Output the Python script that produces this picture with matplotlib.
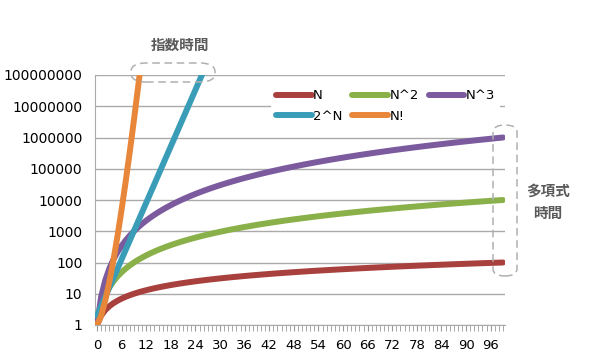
import math

import numpy as np
import matplotlib as mpl
mpl.use('agg')
import matplotlib.pyplot as plt
from matplotlib.patches import FancyBboxPatch

plt.rcParams['font.family'] = ['DejaVu Sans', 'Noto Sans CJK JP']

# problem size N = 1..100, plotted at category positions 0..99
n_values = np.arange(1, 101)
series_labels = ['N', 'N^2', 'N^3', '2^N', 'N!']
series_colors = ['#A8403D', '#8AB04A', '#7B5A9E', '#3A9DB8', '#E8863A']
lin = n_values.astype(float)
quad = n_values.astype(float) ** 2
cube = n_values.astype(float) ** 3
expo = 2.0 ** n_values
fact = np.array([float(math.factorial(int(k))) for k in n_values])

xtick_labels = [str(v) for v in range(0, 97, 6)]
ytick_values = [10 ** k for k in range(0, 9)]

fig = plt.figure(figsize=(6, 3.6), dpi=100)
ax = fig.add_axes((95 / 600, 1 - 325 / 360, 410 / 600, 250 / 360))

pos = np.arange(len(n_values))
lines = {}
for lab, col, vals in zip(series_labels, series_colors, [lin, quad, cube, expo, fact]):
    lines[lab], = ax.plot(pos, vals, color=col, lw=4.3, solid_capstyle='round', label=lab, zorder=3)

ax.set_yscale('log')
ax.set_ylim(1, 1e8)
ax.set_xlim(-0.5, 99.5)
ax.set_yticks(ytick_values)
ax.set_yticklabels([str(v) for v in ytick_values])
ax.yaxis.set_minor_locator(mpl.ticker.NullLocator())
ax.set_xticks(range(0, 97, 6))
ax.set_xticklabels(xtick_labels)
ax.set_xticks(pos, minor=True)
ax.tick_params(axis='x', which='minor', length=4, color='#999999', direction='out')
ax.tick_params(axis='x', which='major', length=4, color='#999999', labelsize=9.5, pad=6)
ax.tick_params(axis='y', length=0, labelsize=10, pad=9)

ax.grid(axis='y', color='#aaaaaa', lw=1)
for s in ['top', 'right']:
    ax.spines[s].set_visible(False)
ax.spines['left'].set_color('#aaaaaa')
ax.spines['bottom'].set_color('#aaaaaa')
ax.set_axisbelow(True)

order = ['N', '2^N', 'N^2', 'N!', 'N^3']
leg = ax.legend([lines[k] for k in order], order, ncol=3, loc='upper right',
                bbox_to_anchor=(0.995, 0.975), frameon=True, fancybox=False,
                edgecolor='none', framealpha=1, fontsize=9.5, handlelength=2.7,
                handletextpad=0.1, columnspacing=0.75, labelspacing=0.6,
                borderaxespad=0.2)

# annotation: exponential time
fig.text(180 / 600, 1 - 45 / 360, '指数時間', ha='center', va='center',
         fontsize=10.5, fontweight='bold', color='#5a5a5a',
         family=['Noto Sans CJK JP', 'DejaVu Sans'])
fig.patches.append(FancyBboxPatch((131 / 600, 1 - 82 / 360), 84 / 600, 19 / 360,
                                  boxstyle='round,pad=0,rounding_size=0.025',
                                  transform=fig.transFigure, fill=False,
                                  ec='#b0b0b0', ls=(0, (5, 3)), lw=1.1))

# annotation: polynomial time
fig.text(548 / 600, 1 - 202 / 360, '多項式\n時間', ha='center', va='center',
         fontsize=10.5, fontweight='bold', color='#5a5a5a', linespacing=1.5,
         family=['Noto Sans CJK JP', 'DejaVu Sans'])
fig.patches.append(FancyBboxPatch((493 / 600, 1 - 276 / 360), 24 / 600, 151 / 360,
                                  boxstyle='round,pad=0,rounding_size=0.02',
                                  transform=fig.transFigure, fill=False,
                                  ec='#b0b0b0', ls=(0, (5, 3)), lw=1.1))

plt.savefig('out.png', dpi=fig.dpi)
